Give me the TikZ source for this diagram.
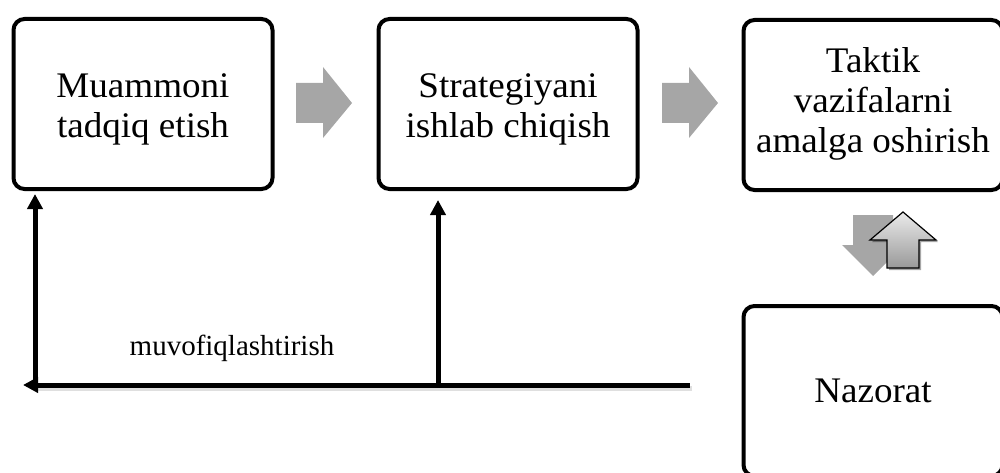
\documentclass[tikz,border=0pt]{standalone}
\usepackage{fontspec}
\setmainfont{Liberation Serif}
\usetikzlibrary{shadows,arrows.meta}

\tikzset{
  stagebox/.style={draw=black, line width=4pt, rounded corners=11pt, fill=white,
    minimum width=259pt, minimum height=170pt, inner sep=0pt, align=center,
    font=\fontsize{36}{40}\selectfont},
  flowline/.style={line width=5pt, -{Triangle[length=15pt,width=15pt]}},
  linkshadow/.style={line width=5pt, draw=black!25, opacity=0.5},
  blockarrow/.style={fill=black!35, draw=none},
  raisedarrow/.style={draw=black, line width=1.2pt, line join=miter,
    top color=black!8, bottom color=black!40,
    drop shadow={shadow xshift=2pt, shadow yshift=-2pt, opacity=0.35, fill=black}},
}
\newcommand{\wide}[1]{\scalebox{1.03}[1]{#1}}
% sets the text a little lower while keeping its box dimensions
\newcommand{\lowered}[1]{\raisebox{-6pt}[\height][\depth]{#1}}

\begin{document}
\begin{tikzpicture}[x=1pt, y=-1pt]
  \useasboundingbox (0,0) rectangle (1000,473);

  % process stages
  \node[stagebox] (research) at (143,104)
    {\lowered{\wide{\begin{tabular}{c}Muammoni\\tadqiq etish\end{tabular}}}};
  \node[stagebox] (strategy) at (508,104)
    {\lowered{\wide{\begin{tabular}{c}Strategiyani\\ishlab chiqish\end{tabular}}}};
  \node[stagebox] (tactics) at (873,105)
    {\wide{\begin{tabular}{c}Taktik\\vazifalarni\\amalga oshirish\end{tabular}}};
  \node[stagebox] (control) at (873,391)
    {\wide{Nazorat}};

  % grey block arrows between the stages
  \fill[blockarrow] (296,83) -- (323,83) -- (323,67) -- (352,103) -- (323,138)
    -- (323,123) -- (296,123) -- cycle;
  \fill[blockarrow] (662,83) -- (689,83) -- (689,67) -- (718,103) -- (689,138)
    -- (689,123) -- (662,123) -- cycle;

  % down / up pair between tactics and control
  \fill[blockarrow] (853,215) -- (893,215) -- (893,245) -- (904,245) -- (873,276)
    -- (842,245) -- (853,245) -- cycle;
  \draw[raisedarrow] (903,212) -- (936,240) -- (919,240) -- (919,268) -- (887,268)
    -- (887,240) -- (870,240) -- cycle;

  % coordination feedback lines
  \coordinate (feedstart) at (690,385);
  \coordinate (feedend) at (23,385);
  \coordinate (leftfoot) at (35,385);
  \coordinate (midfoot) at (438,385);

  \draw[linkshadow] ([shift={(2,3)}]feedstart) -- ([shift={(14,3)}]feedend);
  \draw[flowline] (feedstart) -- (feedend);
  \draw[flowline] ([yshift=-2.5pt]leftfoot) -- ([yshift=-3pt]research.south -| leftfoot);
  \draw[flowline] (midfoot) -- ([yshift=-9pt]strategy.south -| midfoot);

  \node[anchor=base, font=\fontsize{29}{34}\selectfont, inner sep=0pt] (coordlabel)
    at (232,355) {muvofiqlashtirish};
\end{tikzpicture}
\end{document}
